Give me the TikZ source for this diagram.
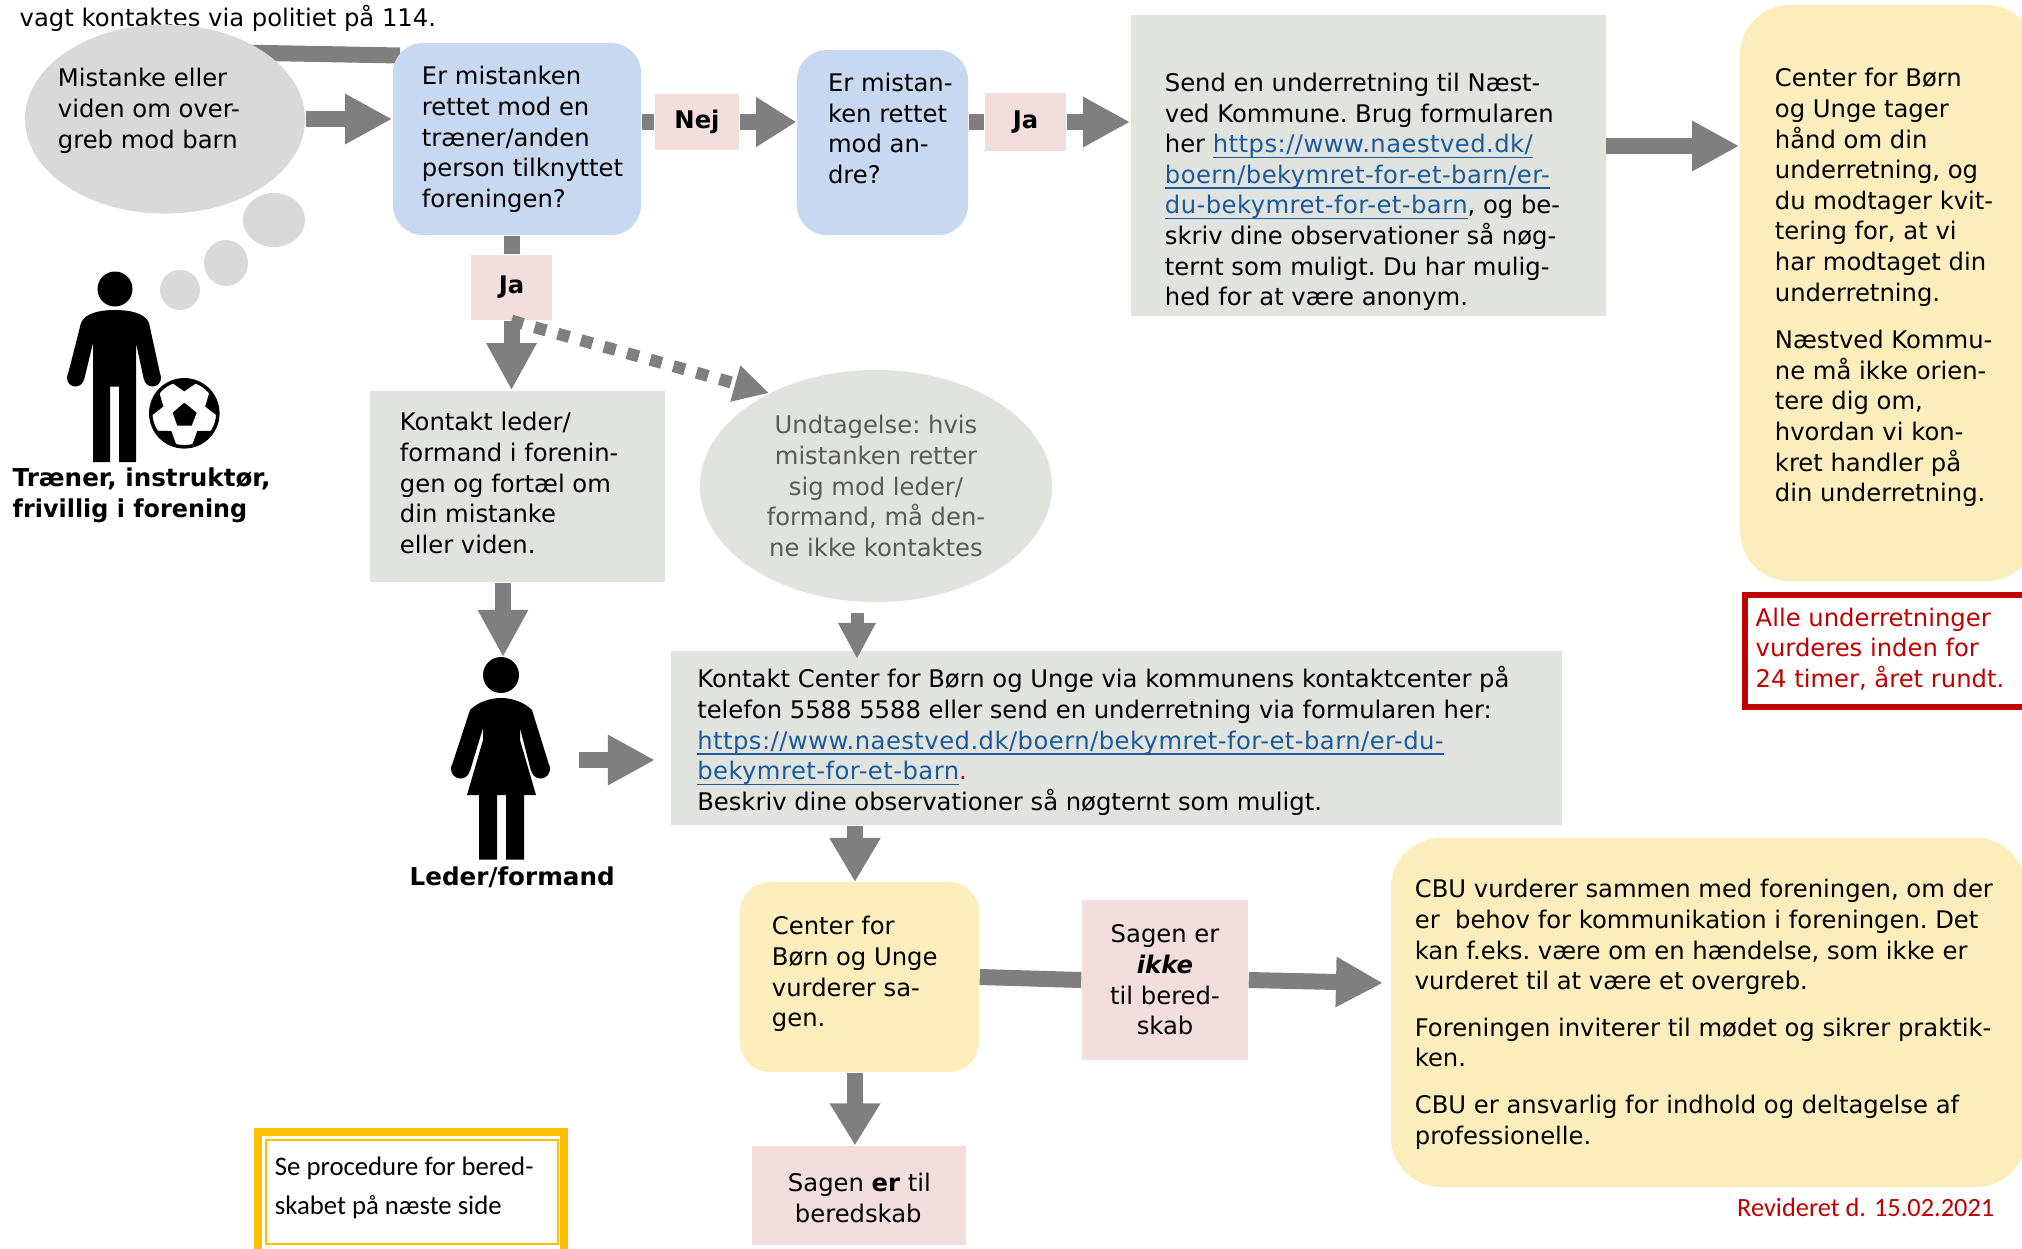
\documentclass[tikz,border=0pt]{standalone}
\usepackage{fontspec}
\usepackage{graphicx}
\setmainfont{DejaVu Sans}
\newfontfamily\carlitofont{Carlito}
\newfontfamily\linkfont[LetterSpace=1.9]{DejaVu Sans}
\usetikzlibrary{positioning}
\usetikzlibrary{arrows.meta}
\usetikzlibrary{shapes.geometric}
\usetikzlibrary{backgrounds}

\definecolor{flowgrey}{HTML}{7F7F7F}
\definecolor{thoughtgrey}{HTML}{D9D9D9}
\definecolor{questionblue}{HTML}{C8D8F0}
\definecolor{infogrey}{HTML}{E1E4DE}
\definecolor{answerpink}{HTML}{F2DFDD}
\definecolor{resultyellow}{HTML}{FCEEBC}
\definecolor{framegold}{HTML}{FFC000}
\definecolor{alertred}{HTML}{C00000}
\definecolor{linkblue}{HTML}{1A5A9C}
\definecolor{exceptiongrey}{HTML}{595959}

\newcommand{\linktext}[1]{{\linkfont\color{linkblue}\underline{\smash{#1}}}}
% first baseline at (#1,#2) from the centre of the node
\newcommand{\boxtext}[3]{\raisebox{#2cm}[0pt][0pt]{\makebox[0pt][l]{\hspace*{#1cm}\parbox[t]{10cm}{#3}}}}

\tikzset{
  bodyfont/.style={font=\fontsize{6.9pt}{8.7pt}\selectfont\frenchspacing},
  flatbox/.style={bodyfont,rectangle,fill=infogrey,inner sep=0pt},
  questionbox/.style={flatbox,fill=questionblue,rounded corners=0.3cm},
  resultbox/.style={flatbox,fill=resultyellow,rounded corners=0.3cm},
  bigresultbox/.style={flatbox,fill=resultyellow,rounded corners=0.5cm},
  answerbox/.style={flatbox,fill=answerpink,align=center},
  bubble/.style={ellipse,fill=thoughtgrey,inner sep=0pt},
  flowbar/.style={flowgrey,line width=0.16cm},
  flowarrow/.style={flowbar,-{Triangle[length=0.47cm,width=0.47cm]}},
  figurelabel/.style={font=\fontsize{7pt}{8.8pt}\selectfont\bfseries,inner sep=0pt,align=left}
}

\begin{document}
\begin{tikzpicture}[x=0.01cm,y=-0.01cm]
  \useasboundingbox (0,0) rectangle (2022,1248);
  \clip (0,0) rectangle (2022,1248);

  \node (topnote) [bodyfont,inner sep=0pt,anchor=base west] at (19,26) {vagt kontaktes via politiet på 114.};

  % first row
  \node (thought)    [bubble,bodyfont,minimum width=2.8cm,minimum height=1.89cm] at (165,119)
    {\boxtext{-1.07}{0.32}{Mistanke eller\\viden om over-\\greb mod barn}};
  \node (bubblea)    [bubble,minimum width=0.62cm,minimum height=0.54cm] at (274,220) {};
  \node (bubbleb)    [bubble,minimum width=0.44cm,minimum height=0.46cm] at (226,263) {};
  \node (bubblec)    [bubble,minimum width=0.40cm,minimum height=0.40cm] at (180,290) {};
  \node (question)   [questionbox,minimum width=2.48cm,minimum height=1.92cm] at (517,139)
    {\boxtext{-0.95}{0.54}{Er mistanken\\rettet mod en\\træner/anden\\person tilknyttet\\foreningen?}};
  \node (nej)        [answerbox,minimum width=0.84cm,minimum height=0.56cm] at (697,122) {\textbf{Nej}};
  \node (otherperson) [questionbox,minimum width=1.71cm,minimum height=1.85cm] at (882.5,142.5)
    {\boxtext{-0.544}{0.51}{Er mistan-\\ken rettet\\mod an-\\dre?}};
  \node (jaright)    [answerbox,minimum width=0.81cm,minimum height=0.57cm] at (1025.5,122) {\textbf{Ja}};
  \node (sendbox)    [flatbox,minimum width=4.75cm,minimum height=3.01cm] at (1368.5,165.5)
    {\boxtext{-2.035}{0.74}{Send en underretning til Næst-\\ved Kommune. Brug formularen\\her \linktext{https://www.naestved.dk/}\\\linktext{boern/bekymret-for-et-barn/er-}\\\linktext{du-bekymret-for-et-barn}, og be-\\skriv dine observationer så nøg-\\ternt som muligt. Du har mulig-\\hed for at være anonym.}};
  \node (handling)   [bigresultbox,minimum width=2.96cm,minimum height=5.76cm] at (1888,293)
    {\boxtext{-1.13}{2.06}{Center for Børn\\og Unge tager\\hånd om din\\underretning, og\\du modtager kvit-\\tering for, at vi\\har modtaget din\\underretning.\\[0.17cm]Næstved Kommu-\\ne må ikke orien-\\tere dig om,\\hvordan vi kon-\\kret handler på\\din underretning.}};

  % second row
  \node (jadown)     [answerbox,minimum width=0.81cm,minimum height=0.65cm] at (511.5,287.5) {\textbf{Ja}};
  \node (contactlead) [flatbox,minimum width=2.95cm,minimum height=1.91cm] at (517.5,486.5)
    {\boxtext{-1.175}{0.555}{Kontakt leder/\\formand i forenin-\\gen og fortæl om\\din mistanke\\eller viden.}};
  \node (exception)  [bubble,bodyfont,fill=infogrey,text=exceptiongrey,align=center,minimum width=3.52cm,minimum height=2.32cm] at (876,486)
    {Undtagelse: hvis\\mistanken retter\\sig mod leder/\\formand, må den-\\ne ikke kontaktes};
  \node (alert)      [bodyfont,rectangle,draw=alertred,line width=0.06cm,text=alertred,minimum width=2.945cm,minimum height=1.12cm,inner sep=0pt] at (1892.75,651)
    {\boxtext{-1.37}{0.25}{Alle underretninger\\vurderes inden for\\24 timer, året rundt.}};

  % third row
  \node (contactcentre) [flatbox,minimum width=8.91cm,minimum height=1.74cm] at (1116.5,738)
    {\boxtext{-4.19}{0.50}{Kontakt Center for Børn og Unge via kommunens kontaktcenter på\\telefon 5588 5588 eller send en underretning via formularen her:\\\linktext{https://www.naestved.dk/boern/bekymret-for-et-barn/er-du-}\\\linktext{bekymret-for-et-barn}{\color{alertred}.}\\Beskriv dine observationer så nøgternt som muligt.}};
  \node (evaluate)   [resultbox,minimum width=2.39cm,minimum height=1.90cm] at (859.5,977)
    {\boxtext{-0.875}{0.42}{Center for\\Børn og Unge\\vurderer sa-\\gen.}};
  \node (noalert)    [answerbox,minimum width=1.66cm,minimum height=1.60cm] at (1165,980)
    {Sagen er\\\textbf{\textit{ikke}}\\til bered-\\skab};
  \node (cburesult)  [bigresultbox,minimum width=6.35cm,minimum height=3.49cm] at (1708.5,1012.5)
    {\boxtext{-2.935}{1.145}{CBU vurderer sammen med foreningen, om der\\er \ behov for kommunikation i foreningen. Det\\kan f.eks. være om en hændelse, som ikke er\\vurderet til at være et overgreb.\\[0.16cm]Foreningen inviterer til mødet og sikrer praktik-\\ken.\\[0.16cm]CBU er ansvarlig for indhold og deltagelse af\\professionelle.}};
  \node (onalert)    [answerbox,minimum width=2.14cm,minimum height=0.99cm] at (859,1195.5)
    {\boxtext{-0.71}{0.04}{Sagen \textbf{er} til\\\hspace*{0.07cm}beredskab}};
  \node (revised)    [inner sep=0pt,anchor=base east,text=alertred,font=\carlitofont\fontsize{7.5pt}{9pt}\selectfont] at (1995,1216) {Revideret d. 15.02.2021};

  % procedure note
  \node (noteframe)  [rectangle,draw=framegold,line width=0.08cm,minimum width=3.065cm,minimum height=1.40cm] at (411,1202) {};
  \node (notebox)    [rectangle,draw=framegold,line width=0.02cm,inner sep=0pt,minimum width=2.92cm,minimum height=1.04cm,font=\carlitofont\fontsize{7.6pt}{11.1pt}\selectfont] at (412,1192)
    {\boxtext{-1.37}{0.17}{Se procedure for bered-\\skabet på næste side}};

  % trainer
  \fill (115,289) circle (17.5);
  \fill (81,323) .. controls (85,313) and (100,310) .. (115,310) .. controls (130,310) and (145,313) .. (149,323)
    -- (161,378) -- (144,380) -- (136,343) -- (136,462) -- (119,462) -- (119,386.5) -- (110,386.5) -- (110,462) -- (93,462) -- (93,343) -- (84,380) -- (67,378) -- cycle;
  \fill (75.5,378) circle (8.5) (152.5,378) circle (8.5);
  \node (ball)       [circle,draw,fill=white,line width=0.035cm,minimum size=0.67cm,inner sep=0pt] at (184.3,413.3) {};
  \begin{scope}
    \clip (184.3,413.3) circle (34);
    \fill (184.3,402.7) -- (196.7,412.7) -- (191.7,425.7) -- (177.3,425.7) -- (172.7,412.7) -- cycle;
    \foreach \patchangle in {90,162,234,306,18} {
      \fill[shift={(184.3,413.3)},rotate=\patchangle] (37,-15) -- (30,-11.7) -- (22,0) -- (30,11.7) -- (37,15) -- cycle;
    }
  \end{scope}
  \node (trainerlabel) [figurelabel,anchor=base west] at (12,517) {Træner, instruktør,\\\scalebox{0.97}[1]{frivillig i forening}};

  % leader
  \fill (501,675) circle (18);
  \fill (470,710) .. controls (478,702) and (490,698) .. (501,698) .. controls (512,698) and (524,702) .. (532,710)
    -- (550,768) -- (531,771) -- (520,728) -- (520,740) -- (536,795) -- (524,795) -- (524,859.5) -- (506,859.5) -- (506,795) -- (497,795) -- (497,859.5) -- (479,859.5) -- (479,795) -- (467,795) -- (483,740) -- (483,728) -- (470,771) -- (451,768) -- cycle;
  \fill (460.5,769) circle (9.5) (540.5,769) circle (9.5);
  \node (leaderlabel) [figurelabel,anchor=base west] at (409,885) {Leder/formand};

  % free ends
  \coordinate (questiontop)  at (400,55.5);
  \coordinate (sendexit)     at (1606,146);
  \coordinate (leaderhead)   at (503,657);
  \coordinate (leaderexit)   at (579,760);
  \coordinate (leadertip)    at (655,760);
  \coordinate (contacttop)   at (857,659);
  \coordinate (evaluatetop)  at (855,882);
  \coordinate (cbuentry)     at (1383,983);

  \begin{scope}[on background layer]
    \draw[flowbar,shorten <=-0.3cm] (thought.33) -- (questiontop);
  \end{scope}
  \draw[flowarrow] (thought.east) -- (thought.east -| question.west);
  \draw[flowbar] (nej.west -| question.east) -- (nej.west);
  \draw[flowarrow,-{Triangle[length=0.40cm,width=0.47cm]}] (nej.east) -- (nej.east -| otherperson.west);
  \draw[flowbar] (jaright.west -| otherperson.east) -- (jaright.west);
  \draw[flowarrow] (jaright.east) -- (jaright.east -| sendbox.west);
  \draw[flowarrow] (sendexit) -- (sendexit -| handling.west);
  \draw[flowbar] (jadown.north |- question.south) -- (jadown.north);
  \draw[flowarrow] (jadown.south) -- (jadown.south |- contactlead.north);
  \draw[flowbar,line width=0.12cm,dash pattern=on 0.12cm off 0.12cm,-{Triangle[length=0.35cm,width=0.35cm]}] (jadown.south) -- (exception.139);
  \draw[flowarrow] (leaderhead |- contactlead.south) -- (leaderhead);
  \draw[flowarrow] (leaderexit) -- (leadertip);
  \draw[flowbar,line width=0.13cm,shorten <=0.1cm,-{Triangle[length=0.36cm,width=0.35cm]}] (contacttop |- exception.south) -- (contacttop);
  \draw[flowarrow,-{Triangle[length=0.44cm,width=0.48cm]}] (evaluatetop |- contactcentre.south) -- (evaluatetop);
  \draw[flowarrow,-{Triangle[length=0.42cm,width=0.48cm]}] (evaluatetop |- evaluate.south) -- (evaluatetop |- onalert.north);
  \draw[flowbar] (evaluate.east) -- (noalert.west);
  \draw[flowarrow] (noalert.east) -- (cbuentry);
\end{tikzpicture}
\end{document}
